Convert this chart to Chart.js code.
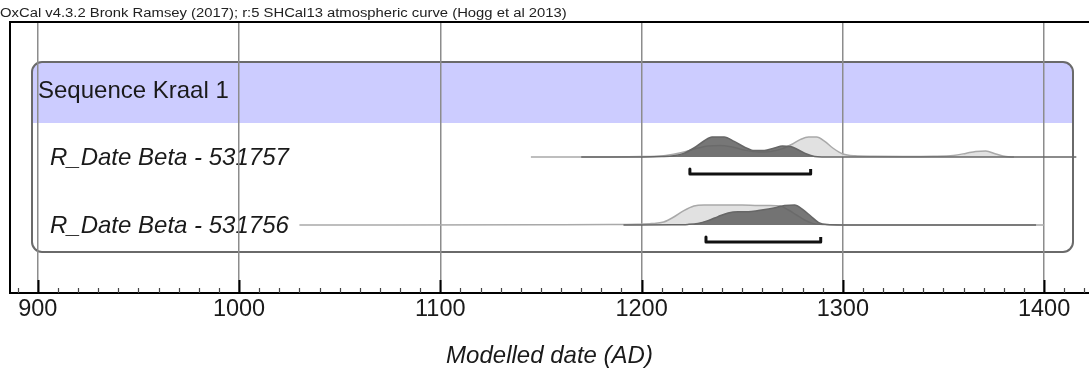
<!DOCTYPE html>
<html>
<head>
<meta charset="utf-8">
<script src="https://cdn.jsdelivr.net/npm/chart.js@4.4.1/dist/chart.umd.min.js"></script>
<style>
  html, body { margin: 0; padding: 0; background: #fff; overflow: hidden; }
  #wrap { width: 1089px; height: 377px; }
</style>
</head>
<body>
<div id="wrap"><canvas id="plot" width="1089" height="377"></canvas></div>
<script>
// ---- texts ----
const curveNote = 'OxCal v4.3.2 Bronk Ramsey (2017); r:5 SHCal13 atmospheric curve (Hogg et al 2013)';
const sequenceName = 'Sequence Kraal 1';
const axisTitle = 'Modelled date (AD)';
const rowLabels = ['R_Date Beta - 531757', 'R_Date Beta - 531756'];
const majorYears = [900, 1000, 1100, 1200, 1300, 1400];

// ---- Beta-531757: unmodelled calibrated likelihood (relative density) ----
const likeYears1 = [1145, 1180, 1200, 1212, 1220, 1227, 1233, 1239, 1245, 1251, 1258, 1264, 1270, 1275, 1279, 1283, 1287, 1291, 1295, 1300, 1306, 1315, 1330, 1345, 1355, 1361, 1366, 1371, 1376, 1381, 1385];
const likeDens1  = [0, 0.005, 0.02, 0.08, 0.22, 0.42, 0.55, 0.58, 0.5, 0.35, 0.25, 0.28, 0.42, 0.65, 0.88, 1.0, 1.0, 0.78, 0.45, 0.15, 0.06, 0.04, 0.03, 0.04, 0.08, 0.18, 0.28, 0.3, 0.15, 0.02, 0];
// ---- Beta-531757: modelled posterior ----
const postYears1 = [1170, 1200, 1210, 1216, 1221, 1226, 1231, 1235, 1241, 1246, 1251, 1256, 1261, 1266, 1270, 1274, 1278, 1282, 1286, 1290, 1300, 1416];
const postDens1  = [0, 0.005, 0.02, 0.06, 0.18, 0.45, 0.8, 1.0, 1.0, 0.78, 0.5, 0.32, 0.32, 0.45, 0.55, 0.53, 0.35, 0.15, 0.03, 0.005, 0, 0];

// ---- Beta-531756: unmodelled calibrated likelihood ----
const likeYears2 = [1030, 1150, 1185, 1198, 1205, 1211, 1216, 1221, 1226, 1231, 1240, 1250, 1258, 1264, 1269, 1273, 1277, 1281, 1285, 1290, 1300, 1400];
const likeDens2  = [0, 0.01, 0.02, 0.04, 0.07, 0.15, 0.4, 0.72, 0.95, 1.0, 1.0, 1.0, 0.98, 0.98, 0.95, 0.75, 0.5, 0.25, 0.08, 0.02, 0.005, 0];
// ---- Beta-531756: modelled posterior ----
const postYears2 = [1191, 1215, 1223, 1228, 1233, 1238, 1243, 1248, 1253, 1258, 1263, 1267, 1271, 1276, 1280, 1284, 1288, 1292, 1300, 1396];
const postDens2  = [0, 0.01, 0.03, 0.08, 0.22, 0.42, 0.6, 0.66, 0.66, 0.72, 0.8, 0.88, 0.98, 1.0, 0.78, 0.45, 0.12, 0.02, 0, 0];

// 95.4% modelled ranges (AD)
const rangeFrom = [1224, 1232];
const rangeTo   = [1284, 1289];

// ---- drawing layout (vertical scale in pixel-like units) ----
const FONT = '"Liberation Sans", Arial, sans-serif';
const yMax = 271;
const rowBase = [136, 68];     // baselines of the two rows
const peakH = 20;              // height of a density of 1
const bracketDrop = 17;        // bracket below baseline
const bracketTip = 5;          // bracket end ticks

function curve(years, dens, base) {
  return years.map((x, i) => ({ x: x, y: base + dens[i] * peakH }));
}
function bracket(a, b, base) {
  const y = base - bracketDrop;
  return [{ x: a, y: y + bracketTip }, { x: a, y: y }, { x: b, y: y }, { x: b, y: y + bracketTip }];
}

const rows = [
  { like: [likeYears1, likeDens1], post: [postYears1, postDens1] },
  { like: [likeYears2, likeDens2], post: [postYears2, postDens2] }
];

const datasets = [];
rows.forEach((r, i) => {
  const base = rowBase[i];
  datasets.push({
    label: rowLabels[i] + ' likelihood',
    data: curve(r.like[0], r.like[1], base),
    fill: { value: base },
    backgroundColor: 'rgba(222,222,222,0.9)',
    borderColor: '#a9a9a9',
    borderWidth: 1.5,
    pointRadius: 0,
    cubicInterpolationMode: 'monotone',
    order: 3
  });
  datasets.push({
    label: rowLabels[i] + ' posterior',
    data: curve(r.post[0], r.post[1], base),
    fill: { value: base },
    backgroundColor: 'rgba(95,95,95,0.85)',
    borderColor: '#666',
    borderWidth: 1.5,
    pointRadius: 0,
    cubicInterpolationMode: 'monotone',
    order: 2
  });
  datasets.push({
    label: rowLabels[i] + ' range',
    data: bracket(rangeFrom[i], rangeTo[i], base),
    fill: false,
    borderColor: '#111',
    borderWidth: 3,
    pointRadius: 0,
    tension: 0,
    borderJoinStyle: 'round',
    order: 1
  });
});

const isMajor = v => Math.round(v) % 100 === 0;

const oxcalFrame = {
  id: 'oxcalFrame',
  beforeDraw(chart) {
    const { ctx, chartArea: a } = chart;
    const ys = chart.scales.y;
    ctx.save();
    ctx.fillStyle = '#fff';
    ctx.fillRect(0, 0, chart.width, chart.height);

    // calibration note
    ctx.fillStyle = '#222';
    ctx.font = '12px ' + FONT;
    ctx.textBaseline = 'alphabetic';
    ctx.textAlign = 'left';
    ctx.save();
    ctx.scale(1.235, 1);
    ctx.fillText(curveNote, 0, 17);
    ctx.restore();

    // sequence box
    const bx = a.left + 22, by = a.top + 40;
    const bw = a.right - 16 - bx, bh = 190, hb = 61;
    ctx.save();
    ctx.beginPath();
    ctx.roundRect(bx, by, bw, bh, 10);
    ctx.clip();
    ctx.fillStyle = '#ccccff';
    ctx.fillRect(bx, by, bw, hb);
    ctx.restore();
    ctx.beginPath();
    ctx.roundRect(bx, by, bw, bh, 10);
    ctx.lineWidth = 2;
    ctx.strokeStyle = '#6a6a6a';
    ctx.stroke();

    ctx.fillStyle = '#1a1a1a';
    ctx.font = '24px ' + FONT;
    ctx.fillText(sequenceName, bx + 6, by + 36);

    ctx.font = 'italic 24px ' + FONT;
    rowLabels.forEach((t, i) => {
      ctx.fillText(t, bx + 18, ys.getPixelForValue(rowBase[i]) + 8);
    });
    ctx.restore();
  },
  afterDraw(chart) {
    const { ctx, chartArea: a } = chart;
    const xs = chart.scales.x;
    ctx.save();
    // minor and major ticks on the inside of the axis
    xs.ticks.forEach(t => {
      const px = Math.round(xs.getPixelForValue(t.value)) + 0.5;
      const major = isMajor(t.value);
      ctx.beginPath();
      ctx.moveTo(px, a.bottom);
      ctx.lineTo(px, a.bottom - (major ? 13 : 5));
      ctx.lineWidth = major ? 2 : 1.2;
      ctx.strokeStyle = major ? '#000' : '#444';
      ctx.stroke();
    });
    // left and top frame
    ctx.beginPath();
    ctx.moveTo(a.left, a.bottom);
    ctx.lineTo(a.left, a.top);
    ctx.lineTo(a.right, a.top);
    ctx.lineWidth = 2;
    ctx.strokeStyle = '#000';
    ctx.stroke();
    ctx.restore();
  }
};

new Chart(document.getElementById('plot'), {
  type: 'line',
  data: { datasets: datasets },
  options: {
    responsive: false,
    devicePixelRatio: 1,
    animation: false,
    layout: { padding: { left: 10, right: 0, top: 22, bottom: 0 } },
    plugins: { legend: { display: false }, tooltip: { enabled: false }, title: { display: false } },
    scales: {
      x: {
        type: 'linear',
        position: 'bottom',
        min: 886.2,
        max: 1422.3,
        afterFit: s => { s.height = 84; },
        ticks: {
          stepSize: 10,
          autoSkip: false,
          maxRotation: 0,
          includeBounds: false,
          padding: 2,
          color: '#1a1a1a',
          font: { family: FONT, size: 23.5 },
          callback: v => (majorYears.includes(Math.round(v)) ? String(Math.round(v)) : '')
        },
        grid: {
          drawTicks: false,
          color: c => (c.tick && isMajor(c.tick.value) ? '#8c8c8c' : 'rgba(0,0,0,0)'),
          lineWidth: 1.5
        },
        border: { display: true, color: '#000', width: 2 },
        title: {
          display: true,
          text: axisTitle,
          color: '#1a1a1a',
          font: { family: FONT, size: 24, style: 'italic' },
          padding: { top: 0, bottom: 6 }
        }
      },
      y: { type: 'linear', display: false, min: 0, max: yMax }
    }
  },
  plugins: [oxcalFrame]
});
</script>
</body>
</html>
